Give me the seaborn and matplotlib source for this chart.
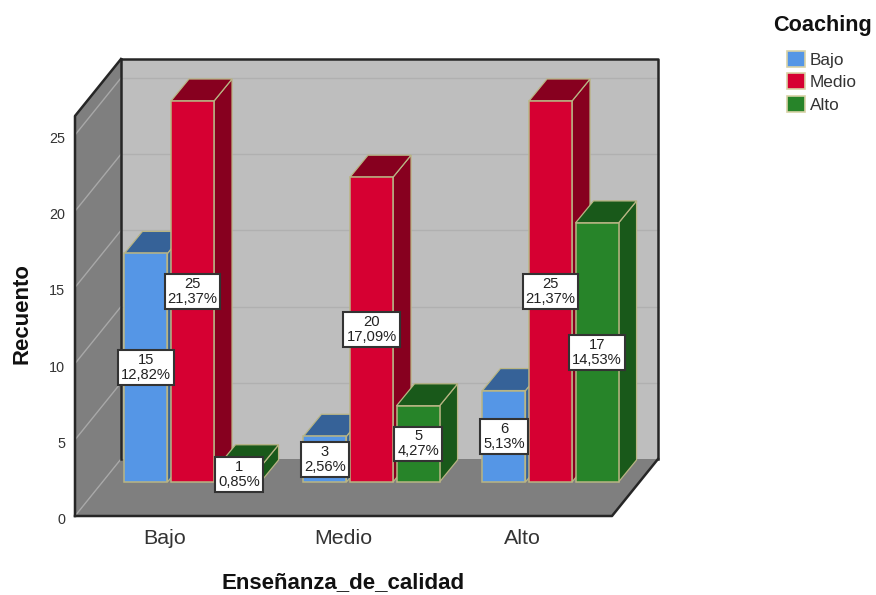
import numpy as np
import pandas as pd
import matplotlib
matplotlib.use("Agg")
import matplotlib.pyplot as plt
import matplotlib.transforms as mtrans
import seaborn as sns
from matplotlib.patches import Polygon, Patch

categories = ["Bajo", "Medio", "Alto"]
coaching = ["Bajo", "Medio", "Alto"]
counts_bajo = [15, 3, 6]
counts_medio = [25, 20, 25]
counts_alto = [1, 5, 17]
pct_bajo = ["12,82%", "2,56%", "5,13%"]
pct_medio = ["21,37%", "17,09%", "21,37%"]
pct_alto = ["0,85%", "4,27%", "14,53%"]
yticks = [0, 5, 10, 15, 20, 25]

front_colors = ["#5596E6", "#D60032", "#278429"]
shade_colors = ["#366298", "#87001F", "#19591A"]
edge_color = "#B9B584"

sns.set_theme(style="white")
plt.rcParams["font.family"] = ["Liberation Sans", "DejaVu Sans"]

W, H = 876, 595
fig = plt.figure(figsize=(W / 100, H / 100), dpi=100, facecolor="white")
L, R, T, B = 75, 612, 116, 516
ax = fig.add_axes([L / W, 1 - B / H, (R - L) / W, (B - T) / H])

df = pd.DataFrame({
    "cat": categories * 3,
    "coaching": np.repeat(coaching, 3),
    "n": counts_bajo + counts_medio + counts_alto,
    "pct": pct_bajo + pct_medio + pct_alto,
})

sns.barplot(data=df, x="cat", y="n", hue="coaching", order=categories,
            hue_order=coaching, palette=front_colors, saturation=1,
            width=0.78, gap=0.075, legend=False, edgecolor=edge_color,
            linewidth=1.1, ax=ax)

ax.set_xlim(-0.5, 2.5)
ax.set_ylim(0, (B - T) / 15.24)
px_x = (R - L) / 3
px_y = 15.24

# oblique projection: pixel depths converted to data units
wall_dx, wall_dy = 46 / px_x, 57 / px_y
base_dx, base_dy = 28 / px_x, 34 / px_y
bar_dx, bar_dy = 18 / px_x, 22 / px_y
ymax = ax.get_ylim()[1]
x0, x1 = ax.get_xlim()

def poly(pts, color, z, ec="none", lw=0):
    ax.add_patch(Polygon(pts, closed=True, facecolor=color, edgecolor=ec,
                         linewidth=lw, zorder=z, clip_on=False))

def line(xs, ys, color, lw, z, **kw):
    ax.plot(xs, ys, color=color, lw=lw, zorder=z, clip_on=False,
            solid_capstyle="projecting", **kw)

# walls and floor
poly([(x0 + wall_dx, wall_dy), (x1 + wall_dx, wall_dy),
      (x1 + wall_dx, ymax + wall_dy), (x0 + wall_dx, ymax + wall_dy)], "#BEBEBE", 0.5)
poly([(x0, 0), (x0 + wall_dx, wall_dy), (x0 + wall_dx, ymax + wall_dy), (x0, ymax)], "#7F7F7F", 0.6)
poly([(x0, 0), (x1, 0), (x1 + wall_dx, wall_dy), (x0 + wall_dx, wall_dy)], "#7F7F7F", 0.6)

for v in yticks:
    if v > 0:
        line([x0 + wall_dx, x1 + wall_dx], [v + wall_dy] * 2, "#B0B0B0", 1.0, 0.8)
    line([x0, x0 + wall_dx], [v, v + wall_dy], "#A8A8A8", 1.0, 0.8)

dark = "#262626"
line([x0 + wall_dx, x0 + wall_dx], [wall_dy, ymax + wall_dy], dark, 1.8, 1)
line([x0 + wall_dx, x1 + wall_dx, x1 + wall_dx], [ymax + wall_dy, ymax + wall_dy, wall_dy], dark, 1.8, 1)
line([x0, x0, x0 + wall_dx], [0, ymax, ymax + wall_dy], dark, 1.8, 1)
line([x0, x1, x1 + wall_dx], [0, 0, wall_dy], dark, 1.8, 1)

# bars, left to right
bars = sorted(sum([list(c) for c in ax.containers], []), key=lambda p: p.get_x())
lookup = {(c, h): (n, p) for c, h, n, p in zip(df["cat"], df["coaching"], df["n"], df["pct"])}
for i, b in enumerate(bars):
    k = i % 3
    cat = categories[i // 3]
    n, pct = lookup[(cat, coaching[k])]
    h = b.get_height()
    b.set_x(b.get_x() + base_dx)
    b.set_y(base_dy)
    b.set_zorder(3 + i + 0.5)
    b.set_clip_on(False)
    xa, xb = b.get_x(), b.get_x() + b.get_width()
    top = base_dy + h
    z = 3 + i
    poly([(xb, base_dy), (xb, top), (xb + bar_dx, top + bar_dy), (xb + bar_dx, base_dy + bar_dy)],
         shade_colors[k], z, edge_color, 0.9)
    poly([(xa, top), (xb, top), (xb + bar_dx, top + bar_dy), (xa + bar_dx, top + bar_dy)],
         shade_colors[k], z, edge_color, 0.9)
    ax.text((xa + xb) / 2, base_dy + h / 2, f"{n}\n{pct}", ha="center", va="center",
            fontsize=10.6, color="#222222", linespacing=1.08, zorder=100,
            bbox=dict(boxstyle="square,pad=0.2", fc="white", ec="#333333", lw=1.5))

ax.set_yticks(yticks)
ax.set_xticks(range(3), categories)
ax.tick_params(axis="y", length=0, pad=7, labelsize=10.4, labelcolor="#333333")
ax.tick_params(axis="x", length=0, pad=9, labelsize=15.4, labelcolor="#333333")
shift_down = mtrans.ScaledTranslation(0, -2.5 / 100, fig.dpi_scale_trans)
for lab in ax.get_yticklabels():
    lab.set_transform(lab.get_transform() + shift_down)
ax.set_xlabel("Enseñanza_de_calidad", fontsize=16, fontweight="bold", color="#111111", labelpad=18)
ax.set_ylabel("Recuento", fontsize=15.9, fontweight="bold", color="#111111")
ax.yaxis.set_label_coords(-0.08, 0.505)
ax.patch.set_visible(False)
for s in ax.spines.values():
    s.set_visible(False)

handles = [Patch(facecolor=c, edgecolor="#D8D2A6", linewidth=1.2) for c in front_colors]
fig.text(773 / W, 1 - 25 / H, "Coaching", fontsize=15.6, fontweight="bold",
         color="#111111", ha="left", va="center")
fig.legend(handles, coaching, loc="upper left", bbox_to_anchor=(771 / W, 1 - 35.5 / H),
           frameon=False, fontsize=12.4, handlelength=1.05, handleheight=1.05,
           handletextpad=0.3, labelspacing=0.32, labelcolor="#333333")

fig.savefig("out.png", dpi=100)
